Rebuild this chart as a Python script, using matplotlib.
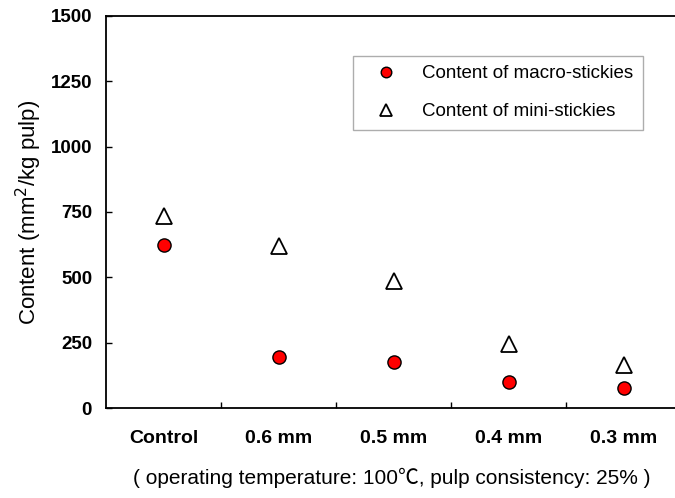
import matplotlib.pyplot as plt

plt.rcParams['font.family'] = ['Liberation Sans', 'DejaVu Sans']

categories = ['Control', '0.6 mm', '0.5 mm', '0.4 mm', '0.3 mm']
macro = [625, 196, 175, 101, 75]
mini = [735, 620, 486, 245, 165]

fig = plt.figure(figsize=(6.75, 4.98), dpi=100)
ax = fig.add_axes([106 / 675, 90 / 498, 575 / 675, 392 / 498])

xs = [i + 0.5 for i in range(len(categories))]
ax.plot(xs, macro, 'o', ms=9.5, mfc='red', mec='black', mew=1.0,
        label='Content of macro-stickies')
ax.plot(xs, mini, '^', ms=11, mfc='white', mec='black', mew=1.3,
        label='Content of mini-stickies')

ax.set_xlim(0, 5)
ax.set_ylim(0, 1500)
ax.spines['right'].set_visible(False)
for s in ['left', 'bottom', 'top']:
    ax.spines[s].set_linewidth(1.3)

ax.set_yticks([0, 250, 500, 750, 1000, 1250, 1500])
ax.set_xticks([1, 2, 3, 4])
ax.set_xticklabels([])
ax.set_xticks(xs, minor=True)
ax.set_xticklabels(categories, minor=True, fontweight='bold', fontsize=14)
ax.tick_params(axis='x', which='minor', length=0, pad=16)
ax.tick_params(axis='both', which='major', direction='in', length=4, width=1)
ax.tick_params(axis='y', labelsize=13.5, pad=10)
for t in ax.get_yticklabels():
    t.set_fontweight('bold')

ax.set_ylabel('Content (mm$^2$/kg pulp)', fontsize=16, labelpad=5)
fig.text(392 / 675, 1 - 478 / 498,
         '( operating temperature: 100\u2103, pulp consistency: 25% )',
         ha='center', va='center', fontsize=15,
         family=['Liberation Sans', 'Noto Sans CJK SC', 'DejaVu Sans'])

leg = ax.legend(loc='upper left', bbox_to_anchor=(247 / 575, 352 / 392),
                frameon=True, fancybox=False, fontsize=13.5, borderpad=0.5,
                labelspacing=1.1, handlelength=2.5, handletextpad=0.7,
                borderaxespad=0, markerscale=0.8)
leg.get_frame().set_edgecolor('#999999')
leg.get_frame().set_linewidth(1.0)

fig.savefig('out.png', dpi=100)
